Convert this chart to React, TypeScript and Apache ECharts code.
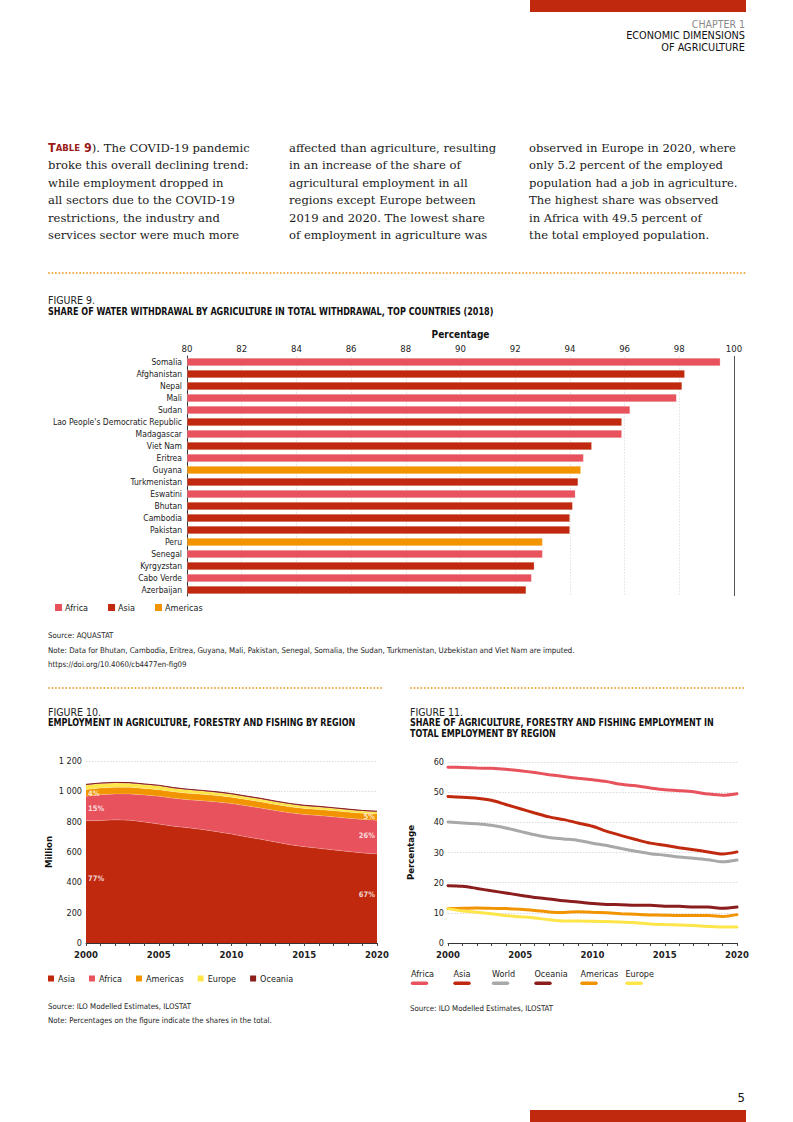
import React, { useEffect, useRef } from "react";
import * as echarts from "echarts";

// ---------- Figure 9 data ----------
const COUNTRIES = [
  "Somalia", "Afghanistan", "Nepal", "Mali", "Sudan",
  "Lao People's Democratic Republic", "Madagascar", "Viet Nam", "Eritrea", "Guyana",
  "Turkmenistan", "Eswatini", "Bhutan", "Cambodia", "Pakistan",
  "Peru", "Senegal", "Kyrgyzstan", "Cabo Verde", "Azerbaijan",
];
const COUNTRY_REGION = [
  "Africa", "Asia", "Asia", "Africa", "Africa",
  "Asia", "Africa", "Asia", "Africa", "Americas",
  "Asia", "Africa", "Asia", "Asia", "Asia",
  "Americas", "Africa", "Asia", "Africa", "Asia",
];
const WATER_SHARE = [
  99.5, 98.2, 98.1, 97.9, 96.2,
  95.9, 95.9, 94.8, 94.5, 94.4,
  94.3, 94.2, 94.1, 94.0, 94.0,
  93.0, 93.0, 92.7, 92.6, 92.4,
];
const BAR_REGIONS = ["Africa", "Asia", "Americas"];

// ---------- Figure 10 data (million) ----------
const YEARS = [
  "2000", "2001", "2002", "2003", "2004", "2005", "2006", "2007", "2008", "2009", "2010",
  "2011", "2012", "2013", "2014", "2015", "2016", "2017", "2018", "2019", "2020",
];
const EMP_ASIA = [806, 808, 812, 810, 798, 784, 770, 760, 748, 734, 718, 700, 684, 666, 648, 635, 624, 614, 604, 594, 587];
const EMP_AFRICA = [162, 170, 171, 173, 178, 184, 185, 185, 190, 196, 202, 205, 206, 207, 210, 212, 216, 218, 219, 221, 223];
const EMP_AMERICAS = [44, 44, 44, 44, 43, 43, 42, 42, 42, 42, 41, 41, 41, 41, 40, 40, 40, 40, 40, 40, 40];
const EMP_EUROPE = [30, 29, 28, 27, 26, 25, 24, 23, 22, 21, 20, 19, 19, 18, 18, 17, 17, 16, 16, 15, 15];
const EMP_OCEANIA = [4, 4, 4, 4, 4, 4, 4, 4, 4, 4, 4, 4, 4, 4, 4, 4, 4, 4, 4, 4, 4];
const EMP_SHARE_LABELS = [
  { year: "2000", at: 987, text: "4%", side: "right" },
  { year: "2000", at: 889, text: "15%", side: "right" },
  { year: "2000", at: 423, text: "77%", side: "right" },
  { year: "2020", at: 836, text: "5%", side: "left" },
  { year: "2020", at: 706, text: "26%", side: "left" },
  { year: "2020", at: 318, text: "67%", side: "left" },
];

// ---------- Figure 11 data (percentage) ----------
const SHARE_AFRICA = [58.3, 58.2, 58.0, 57.9, 57.6, 57.1, 56.5, 55.8, 55.2, 54.6, 54.1, 53.5, 52.6, 52.1, 51.4, 50.8, 50.5, 50.1, 49.4, 49.0, 49.5];
const SHARE_ASIA = [48.6, 48.3, 48.0, 47.3, 45.9, 44.5, 43.1, 41.8, 40.9, 39.8, 38.7, 37.0, 35.6, 34.3, 33.1, 32.4, 31.6, 30.9, 30.2, 29.5, 30.2];
const SHARE_WORLD = [40.1, 39.8, 39.5, 39.0, 38.1, 37.0, 35.9, 35.0, 34.5, 34.0, 33.1, 32.3, 31.3, 30.4, 29.6, 29.1, 28.5, 28.1, 27.6, 26.9, 27.5];
const SHARE_OCEANIA = [19.0, 18.8, 18.1, 17.3, 16.6, 15.8, 15.1, 14.6, 14.0, 13.6, 13.1, 12.8, 12.7, 12.5, 12.5, 12.2, 12.2, 11.9, 11.9, 11.5, 11.9];
const SHARE_AMERICAS = [11.4, 11.5, 11.6, 11.5, 11.4, 11.2, 10.8, 10.3, 10.1, 10.4, 10.2, 10.0, 9.7, 9.5, 9.3, 9.2, 9.1, 9.1, 9.1, 8.8, 9.4];
const SHARE_EUROPE = [11.4, 10.6, 10.2, 9.7, 9.1, 8.7, 8.3, 7.7, 7.3, 7.3, 7.2, 7.1, 7.0, 6.7, 6.3, 6.1, 6.0, 5.8, 5.5, 5.3, 5.3];

// ---------- Styles ----------
const C = {
  asia: "#c1290e",
  africa: "#e8525c",
  americas: "#f29400",
  europe: "#fde54a",
  oceania: "#8b1d1d",
  world: "#a8a8a8",
  dots: "#eea43a",
  red: "#c1290e",
};
const F = "'Liberation Sans Narrow','DejaVu Sans Condensed',sans-serif";
const SERIF = "'DejaVu Serif','Liberation Serif',serif";
const TITLE_SCALE = 0.855;

const BODY_COLS = [
  [
    "{r|T}{s|ABLE}{r| 9}). The COVID-19 pandemic",
    "broke this overall declining trend:",
    "while employment dropped in",
    "all sectors due to the COVID-19",
    "restrictions, the industry and",
    "services sector were much more",
  ],
  [
    "affected than agriculture, resulting",
    "in an increase of the share of",
    "agricultural employment in all",
    "regions except Europe between",
    "2019 and 2020. The lowest share",
    "of employment in agriculture was",
  ],
  [
    "observed in Europe in 2020, where",
    "only 5.2 percent of the employed",
    "population had a job in agriculture.",
    "The highest share was observed",
    "in Africa with 49.5 percent of",
    "the total employed population.",
  ],
];

function txt(x: number, y: number, text: string, o: any = {}) {
  const align = o.align || "left";
  return {
    type: "text",
    x,
    y,
    silent: true,
    scaleX: o.scaleX || 1,
    style: {
      text,
      fill: o.fill || "#1a1a1a",
      fontFamily: o.family || F,
      fontSize: o.size || 9,
      fontWeight: o.weight || "normal",
      textAlign: align,
      textVerticalAlign: "middle",
      rich: o.rich,
    },
  };
}

function dotted(x1: number, x2: number, y: number) {
  return {
    type: "line",
    silent: true,
    shape: { x1, y1: y, x2, y2: y },
    style: { stroke: C.dots, lineWidth: 1.9, lineDash: [0.01, 3.45], lineCap: "round" },
  };
}

function fmtThousands(v: number) {
  return String(v).replace(/\B(?=(\d{3})+(?!\d))/g, " ");
}

export default function App() {
  const ref = useRef<HTMLDivElement>(null);

  useEffect(() => {
    if (!ref.current) return;
    const chart = echarts.init(ref.current, null, { renderer: "svg" });

    const graphics: any[] = [];
    // header
    graphics.push({ type: "rect", silent: true, shape: { x: 530, y: 0, width: 216, height: 12 }, style: { fill: C.red } });
    graphics.push(txt(745, 24, "CHAPTER 1", { align: "right", size: 10.5, fill: "#8a8a8a" }));
    graphics.push(txt(745, 35.5, "ECONOMIC DIMENSIONS", { align: "right", size: 10.8, fill: "#111" }));
    graphics.push(txt(745, 47, "OF AGRICULTURE", { align: "right", size: 10.8, fill: "#111" }));
    // body
    const colX = [48, 289, 529];
    const rich = {
      r: { fill: "#9b1b1b", fontFamily: F, fontWeight: "bold", fontSize: 12.5 },
      s: { fill: "#9b1b1b", fontFamily: F, fontWeight: "bold", fontSize: 9.5 },
    };
    BODY_COLS.forEach((lines, ci) => {
      lines.forEach((line, li) => {
        graphics.push(
          txt(colX[ci], 147.7 + li * 17.47, line, { family: SERIF, size: 11.6, fill: "#1a1a1a", rich: line.includes("{r|") ? rich : undefined })
        );
      });
    });
    graphics.push(dotted(49, 746, 273));
    // figure 9 texts
    graphics.push(txt(48, 300, "FIGURE 9.", { size: 10.5, fill: "#222" }));
    graphics.push(txt(48, 311.5, "SHARE OF WATER WITHDRAWAL BY AGRICULTURE IN TOTAL WITHDRAWAL, TOP COUNTRIES (2018)", { size: 10.5, weight: "bold", fill: "#111", scaleX: TITLE_SCALE }));
    graphics.push(txt(48, 635, "Source: AQUASTAT", { size: 7.8, fill: "#222" }));
    graphics.push(txt(48, 650, "Note: Data for Bhutan, Cambodia, Eritrea, Guyana, Mali, Pakistan, Senegal, Somalia, the Sudan, Turkmenistan, Uzbekistan and Viet Nam are imputed.", { size: 7.8, fill: "#222" }));
    graphics.push(txt(48, 664.5, "https://doi.org/10.4060/cb4477en-fig09", { size: 7.8, fill: "#222" }));
    graphics.push(dotted(49, 383, 688));
    graphics.push(dotted(411, 746, 688));
    // figure 10 texts
    graphics.push(txt(48, 711.7, "FIGURE 10.", { size: 10.5, fill: "#222" }));
    graphics.push(txt(48, 722.5, "EMPLOYMENT IN AGRICULTURE, FORESTRY AND FISHING BY REGION", { size: 10.5, weight: "bold", fill: "#111", scaleX: TITLE_SCALE }));
    graphics.push(txt(48, 1006.7, "Source: ILO Modelled Estimates, ILOSTAT", { size: 7.8, fill: "#222" }));
    graphics.push(txt(48, 1020, "Note: Percentages on the figure indicate the shares in the total.", { size: 7.8, fill: "#222" }));
    // figure 11 texts
    graphics.push(txt(410, 711.7, "FIGURE 11.", { size: 10.5, fill: "#222" }));
    graphics.push(txt(410, 722.5, "SHARE OF AGRICULTURE, FORESTRY AND FISHING EMPLOYMENT IN", { size: 10.5, weight: "bold", fill: "#111", scaleX: TITLE_SCALE }));
    graphics.push(txt(410, 733.5, "TOTAL EMPLOYMENT BY REGION", { size: 10.5, weight: "bold", fill: "#111", scaleX: TITLE_SCALE }));
    graphics.push(txt(410, 1008.3, "Source: ILO Modelled Estimates, ILOSTAT", { size: 7.8, fill: "#222" }));
    // figure 11 legend
    const lineLegend: [string, string, number][] = [
      ["Africa", C.africa, 411],
      ["Asia", C.asia, 453.5],
      ["World", C.world, 492],
      ["Oceania", C.oceania, 534.5],
      ["Americas", C.americas, 580.5],
      ["Europe", C.europe, 625.5],
    ];
    lineLegend.forEach(([name, color, x]) => {
      graphics.push(txt(x, 974, name, { size: 9, fill: "#222" }));
      graphics.push({
        type: "line",
        silent: true,
        shape: { x1: x + 1.5, y1: 983.3, x2: x + 15.5, y2: 983.3 },
        style: { stroke: color, lineWidth: 3.4, lineCap: "round" },
      });
    });
    // footer
    graphics.push(txt(745, 1097, "5", { align: "right", size: 13, fill: "#111" }));
    graphics.push({ type: "rect", silent: true, shape: { x: 530, y: 1110, width: 216, height: 12 }, style: { fill: C.red } });

    const regionColor: Record<string, string> = { Africa: C.africa, Asia: C.asia, Americas: C.americas };

    const barSeries = BAR_REGIONS.map((r, i) => ({
      type: "bar",
      name: r,
      xAxisIndex: 0,
      yAxisIndex: 0,
      barWidth: 8,
      barGap: "-100%",
      clip: true,
      itemStyle: { color: regionColor[r], borderColor: "rgba(255,255,255,0.45)", borderWidth: 0.5 },
      data: WATER_SHARE.map((v, k) => (COUNTRY_REGION[k] === r ? v : "-")),
      markLine:
        i === 0
          ? {
              silent: true,
              symbol: "none",
              label: { show: false },
              lineStyle: { color: "#555", type: "solid", width: 1 },
              data: [{ xAxis: 100 }],
            }
          : undefined,
    }));

    const areaDefs: [string, number[], string][] = [
      ["Asia", EMP_ASIA, C.asia],
      ["Africa", EMP_AFRICA, C.africa],
      ["Americas", EMP_AMERICAS, C.americas],
      ["Europe", EMP_EUROPE, C.europe],
      ["Oceania", EMP_OCEANIA, C.oceania],
    ];
    const areaSeries = areaDefs.map(([name, data, color]) => ({
      type: "line",
      name,
      xAxisIndex: 1,
      yAxisIndex: 1,
      stack: "emp",
      symbol: "none",
      data,
      itemStyle: { color },
      lineStyle:
        name === "Oceania"
          ? { width: 1, color: C.oceania }
          : { width: 0.6, color: "rgba(255,255,255,0.35)" },
      areaStyle: { color, opacity: 1 },
    }));

    const labelSeries = {
      type: "scatter",
      name: "shares",
      xAxisIndex: 1,
      yAxisIndex: 1,
      symbolSize: 0,
      silent: true,
      z: 10,
      data: EMP_SHARE_LABELS.map((l) => ({
        value: [l.year, l.at],
        label: {
          show: true,
          formatter: l.text,
          position: l.side,
          distance: 2,
          color: "#fff",
          fontWeight: "bold",
          fontSize: 7.5,
          fontFamily: F,
        },
      })),
    };

    const lineDefs: [string, number[], string][] = [
      ["Africa", SHARE_AFRICA, C.africa],
      ["Asia", SHARE_ASIA, C.asia],
      ["World", SHARE_WORLD, C.world],
      ["Oceania", SHARE_OCEANIA, C.oceania],
      ["Americas", SHARE_AMERICAS, C.americas],
      ["Europe", SHARE_EUROPE, C.europe],
    ];
    const lineSeries = lineDefs.map(([name, data, color]) => ({
      type: "line",
      name,
      xAxisIndex: 2,
      yAxisIndex: 2,
      symbol: "none",
      smooth: 0.3,
      data,
      itemStyle: { color },
      lineStyle: { width: 3, color, cap: "round" },
    }));

    const axisLabel = { fontFamily: F, color: "#222", fontSize: 9 };
    const yearAxis = (gi: number) => ({
      type: "category",
      gridIndex: gi,
      data: YEARS,
      boundaryGap: false,
      axisLine: { lineStyle: { color: "#333", width: 1 } },
      axisTick: { show: true, interval: 0, length: 3, lineStyle: { color: "#444" } },
      axisLabel: { ...axisLabel, fontWeight: "bold", fontSize: 9.5, interval: 4, margin: 6 },
      splitLine: { show: false },
    });

    chart.setOption({
      animation: false,
      backgroundColor: "#ffffff",
      textStyle: { fontFamily: F },
      grid: [
        { left: 187, top: 356, width: 547, height: 240 },
        { left: 86, top: 761, width: 291, height: 182 },
        { left: 448, top: 762, width: 289, height: 181 },
      ],
      xAxis: [
        {
          type: "value",
          gridIndex: 0,
          position: "top",
          min: 80,
          max: 100,
          interval: 2,
          startValue: 80,
          axisLine: { show: false },
          axisTick: { show: false },
          axisLabel: { ...axisLabel, fontSize: 9.5, margin: 3 },
          splitLine: { show: true, lineStyle: { color: "#d6d6d6", type: [1.5, 1.5], width: 0.7 } },
          name: "Percentage",
          nameLocation: "middle",
          nameGap: 17,
          nameTextStyle: { fontFamily: F, fontWeight: "bold", fontSize: 10, color: "#111" },
        },
        yearAxis(1),
        yearAxis(2),
      ],
      yAxis: [
        {
          type: "category",
          gridIndex: 0,
          inverse: true,
          data: COUNTRIES,
          axisLine: { show: true, lineStyle: { color: "#333", width: 1 } },
          axisTick: { show: false },
          axisLabel: { ...axisLabel, fontSize: 8.5, margin: 5 },
        },
        {
          type: "value",
          gridIndex: 1,
          min: 0,
          max: 1200,
          interval: 200,
          axisLine: { show: false },
          axisTick: { show: false },
          axisLabel: { ...axisLabel, fontSize: 9, margin: 4, formatter: (v: number) => fmtThousands(v) },
          splitLine: { show: true, lineStyle: { color: "#cccccc", type: [1.5, 1.5], width: 0.7 } },
          name: "Million",
          nameLocation: "middle",
          nameGap: 33,
          nameRotate: 90,
          nameTextStyle: { fontFamily: F, fontWeight: "bold", fontSize: 9.5, color: "#111" },
        },
        {
          type: "value",
          gridIndex: 2,
          min: 0,
          max: 60,
          interval: 10,
          axisLine: { show: false },
          axisTick: { show: false },
          axisLabel: { ...axisLabel, fontSize: 9, margin: 4 },
          splitLine: { show: true, lineStyle: { color: "#cccccc", type: [1.5, 1.5], width: 0.7 } },
          name: "Percentage",
          nameLocation: "middle",
          nameGap: 33,
          nameRotate: 90,
          nameTextStyle: { fontFamily: F, fontWeight: "bold", fontSize: 9.5, color: "#111" },
        },
      ],
      legend: [
        {
          left: 55,
          top: 603,
          padding: 0,
          itemWidth: 7,
          itemHeight: 7,
          itemGap: 20,
          icon: "rect",
          selectedMode: false,
          itemStyle: { borderWidth: 0 },
          textStyle: { fontFamily: F, fontSize: 9, color: "#222", padding: [0, 0, 0, -2] },
          data: ["Africa", "Asia", "Americas"],
        },
        {
          left: 48,
          top: 974,
          padding: 0,
          itemWidth: 6,
          itemHeight: 6,
          itemGap: 14,
          icon: "rect",
          selectedMode: false,
          itemStyle: { borderWidth: 0 },
          textStyle: { fontFamily: F, fontSize: 9, color: "#222", padding: [0, 0, 0, -1] },
          data: ["Asia", "Africa", "Americas", "Europe", "Oceania"],
        },
      ],
      series: [...barSeries, ...areaSeries, labelSeries, ...lineSeries],
      graphic: graphics,
    });

    return () => chart.dispose();
  }, []);

  return (
    <div
      ref={ref}
      style={{ position: "absolute", left: 0, top: 0, width: 793, height: 1122, background: "#fff" }}
    />
  );
}
